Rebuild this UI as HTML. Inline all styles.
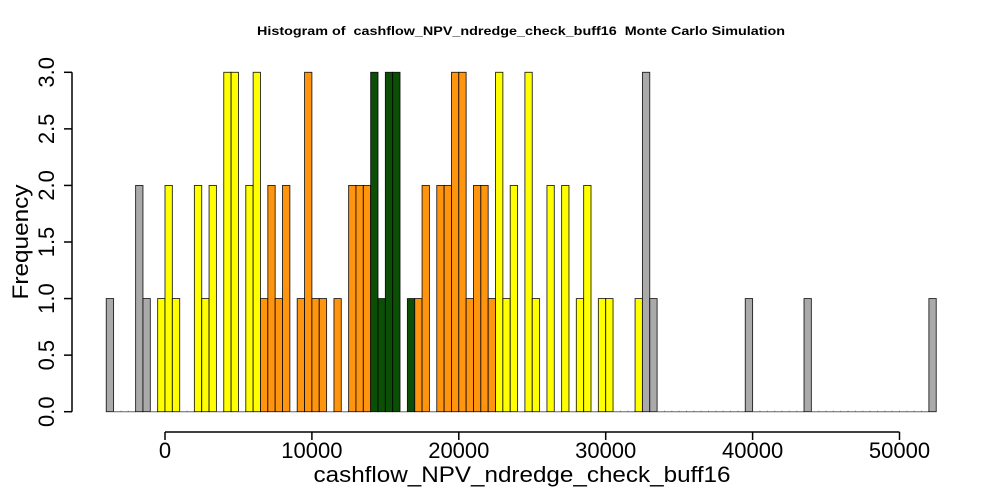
<!DOCTYPE html>
<html><head><meta charset="utf-8"><style>
html,body{margin:0;padding:0;background:#fff;}
svg{display:block;font-family:"Liberation Sans",Arial,sans-serif;}
</style></head><body>
<svg id="chart" width="1000" height="500" viewBox="0 0 1000 500" xmlns="http://www.w3.org/2000/svg">
<text x="521" y="35" text-anchor="middle" font-size="12" font-weight="bold" textLength="528" lengthAdjust="spacingAndGlyphs" style="white-space:pre">Histogram of  cashflow_NPV_ndredge_check_buff16  Monte Carlo Simulation</text>
<g id="bars"></g>
<g id="xaxis"></g>
<g id="yaxis"></g>
<text x="522" y="482" text-anchor="middle" font-size="22" textLength="417" lengthAdjust="spacingAndGlyphs">cashflow_NPV_ndredge_check_buff16</text>
<text transform="translate(28,242) rotate(-90)" text-anchor="middle" font-size="22" textLength="115" lengthAdjust="spacingAndGlyphs">Frequency</text>
</svg>
<script>
const binStart = -4000;
const binWidth = 500;
const counts = [1,0,0,0,2,1,0,1,2,1,0,0,2,1,2,0,3,3,0,2,3,1,2,1,2,0,1,3,1,1,0,1,0,2,2,2,3,1,3,3,0,1,1,2,0,2,2,3,3,1,2,2,1,3,1,2,0,3,1,0,2,0,2,0,1,2,0,1,1,0,0,0,1,3,1,0,0,0,0,0,0,0,0,0,0,0,0,1,0,0,0,0,0,0,0,1,0,0,0,0,0,0,0,0,0,0,0,0,0,0,0,0,1];
const binColors = (function(){const c=[];for(let k=0;k<counts.length;k++){let col='#aaaaaa';if(k>=7&&k<=20)col='#ffff00';else if(k>=21&&k<=52)col=(k>=36&&k<=41)?'#0b4f07':'#ff950e';else if(k>=53&&k<=72)col='#ffff00';c.push(col);}return c;})();
const xTicks = [0,10000,20000,30000,40000,50000];
const xTickLabels = ["0","10000","20000","30000","40000","50000"];
const yTicks = [0,0.5,1,1.5,2,2.5,3];
const yTickLabels = ["0.0","0.5","1.0","1.5","2.0","2.5","3.0"];

const NS="http://www.w3.org/2000/svg";
function xs(v){return 165 + (v-0)*(734.5/50000);}
function ys(v){return 411.7 - v*(339.4/3);}
function mk(tag,attrs,parent){const e=document.createElementNS(NS,tag);for(const k in attrs)e.setAttribute(k,attrs[k]);parent.appendChild(e);return e;}

const bars=document.getElementById('bars');
counts.forEach((c,i)=>{
  const x0=xs(binStart+i*binWidth), x1=xs(binStart+(i+1)*binWidth);
  let r;
  if(c>0){
    r=mk('rect',{x:x0,y:ys(c),width:x1-x0,height:ys(0)-ys(c),fill:binColors[i],stroke:'#000','stroke-width':0.9,'stroke-opacity':0.85},bars);
  } else {
    r=mk('path',{d:'M'+x0+','+ys(0)+'H'+x1+'M'+x1+','+(ys(0)-1)+'V'+ys(0),fill:'none',stroke:'#666','stroke-width':1},bars);
  }
  
  
});

const xa=document.getElementById('xaxis');
mk('line',{x1:xs(xTicks[0]),x2:xs(xTicks[xTicks.length-1]),y1:432,y2:432,stroke:'#000','stroke-width':1.5},xa);
xTicks.forEach((t,i)=>{
  mk('line',{x1:xs(t),x2:xs(t),y1:432,y2:440,stroke:'#000','stroke-width':1.5},xa);
  const tx=mk('text',{x:xs(t),y:458,'text-anchor':'middle','font-size':22},xa);
  tx.textContent=xTickLabels[i];
  
  
});

const ya=document.getElementById('yaxis');
mk('line',{x1:72,x2:72,y1:ys(yTicks[0]),y2:ys(yTicks[yTicks.length-1]),stroke:'#000','stroke-width':1.5},ya);
yTicks.forEach((t,i)=>{
  mk('line',{x1:64,x2:72,y1:ys(t),y2:ys(t),stroke:'#000','stroke-width':1.5},ya);
  const tx=mk('text',{transform:'translate(54,'+ys(t)+') rotate(-90)','text-anchor':'middle','font-size':22},ya);
  tx.textContent=yTickLabels[i];
  
  
});
</script>
</body></html>
